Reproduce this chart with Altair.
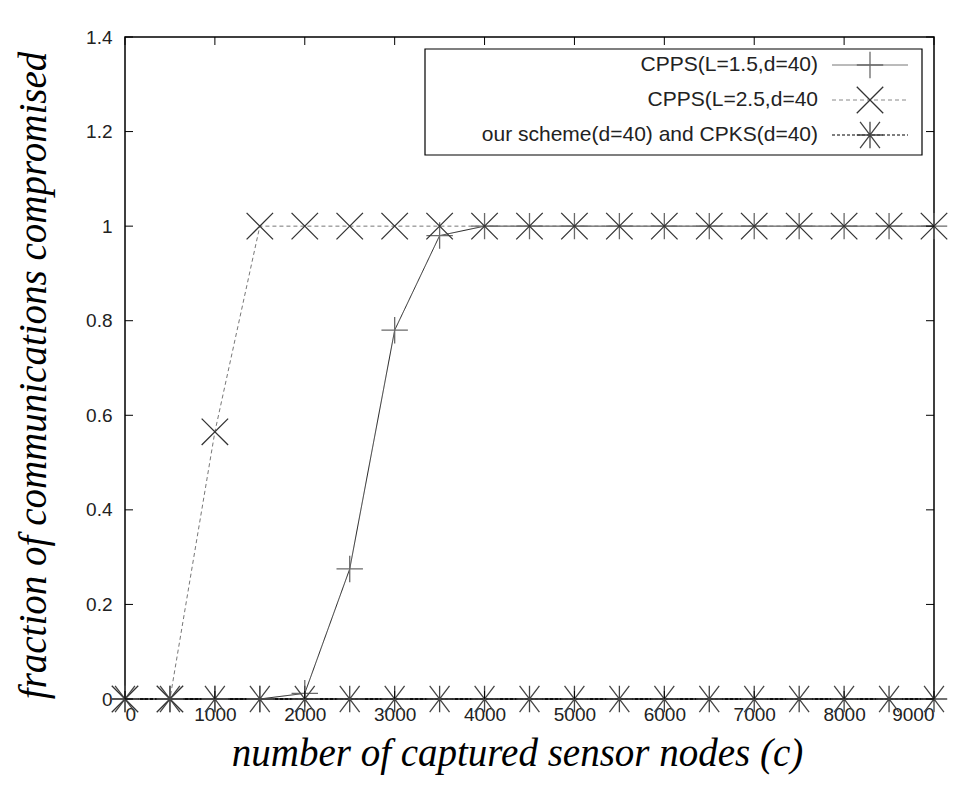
import altair as alt
import pandas as pd

# ---- data ----
captured = [0, 500, 1000, 1500, 2000, 2500, 3000, 3500, 4000, 4500,
            5000, 5500, 6000, 6500, 7000, 7500, 8000, 8500, 9000]
cpps_15 = [0, 0, 0, 0, 0.012, 0.275, 0.78, 0.98, 1, 1,
           1, 1, 1, 1, 1, 1, 1, 1, 1]
cpps_25 = [0, 0, 0.565, 1, 1, 1, 1, 1, 1, 1,
           1, 1, 1, 1, 1, 1, 1, 1, 1]
our_scheme = [0, 0, 0, 0, 0, 0, 0, 0, 0, 0,
              0, 0, 0, 0, 0, 0, 0, 0, 0]
series_names = ["CPPS(L=1.5,d=40)", "CPPS(L=2.5,d=40",
                "our scheme(d=40) and CPKS(d=40)"]
x_ticks = [0, 1000, 2000, 3000, 4000, 5000, 6000, 7000, 8000, 9000]
y_ticks = [0, 0.2, 0.4, 0.6, 0.8, 1.0, 1.2, 1.4]

W, H = 809, 662
PLUS = "M-1,0L1,0M0,-1L0,1"
CROSS = "M-1,-1L1,1M-1,1L1,-1"
STAR = "M-1,0L1,0M0,-1L0,1M-0.75,-1L0.75,1M-0.75,1L0.75,-1"
MSIZE = 700

xscale = alt.Scale(domain=[0, 9000], nice=False, zero=False)
yscale = alt.Scale(domain=[0, 1.4], nice=False)

df1 = pd.DataFrame({"c": captured, "f": cpps_15})
df2 = pd.DataFrame({"c": captured, "f": cpps_25})
df3 = pd.DataFrame({"c": captured, "f": our_scheme})

xenc = alt.X("c:Q", scale=xscale,
             axis=alt.Axis(values=x_ticks, format="d", title="number of captured sensor nodes (c)",
                           titleFontSize=39, titleX=392))
yenc = alt.Y("f:Q", scale=yscale,
             axis=alt.Axis(values=y_ticks, format="~g", title="fraction of communications compromised",
                           titleFontSize=39, titleY=338))


def series(df, color, dash, mcolor, shape, width=1.0):
    base = alt.Chart(df).encode(x=xenc, y=yenc)
    line = base.mark_line(color=color, strokeWidth=width, strokeDash=dash)
    pts = base.mark_point(shape=shape, size=MSIZE, color=mcolor, filled=False,
                          strokeWidth=1.3, opacity=1)
    return line, pts


l1, p1 = series(df1, "#222222", [1, 0], "#6a6a6a", PLUS)
l2, p2 = series(df2, "#777777", [4, 3], "#333333", CROSS)
l3, p3 = series(df3, "#000000", [3, 2], "#444444", STAR, width=1.6)

# inward ticks (gnuplot style), driven by the tick lists
xt = pd.DataFrame({"c": x_ticks})
yt = pd.DataFrame({"f": y_ticks})
tick_style = dict(color="#000000", strokeWidth=1)
xt_bottom = alt.Chart(xt).mark_rule(**tick_style).encode(
    x=alt.X("c:Q", scale=xscale), y=alt.value(H), y2=alt.value(H - 8))
xt_top = alt.Chart(xt).mark_rule(**tick_style).encode(
    x=alt.X("c:Q", scale=xscale), y=alt.value(0), y2=alt.value(8))
yt_left = alt.Chart(yt).mark_rule(**tick_style).encode(
    y=alt.Y("f:Q", scale=yscale), x=alt.value(0), x2=alt.value(8))
yt_right = alt.Chart(yt).mark_rule(**tick_style).encode(
    y=alt.Y("f:Q", scale=yscale), x=alt.value(W), x2=alt.value(W - 8))

# legend box (top right, labels right-aligned, sample on the right)
LX0, LX1, LY0, LY1 = 300, 797, 12, 118
rows = [28, 63, 98]
leg_box = alt.Chart(pd.DataFrame({"a": [0]})).mark_rect(
    fill="white", stroke="#000000", strokeWidth=1.2).encode(
    x=alt.value(LX0), x2=alt.value(LX1), y=alt.value(LY0), y2=alt.value(LY1))
leg_df = pd.DataFrame({"label": series_names, "ly": rows})
leg_text = alt.Chart(leg_df).mark_text(
    align="right", baseline="middle", font="Liberation Sans", fontSize=21,
    color="#222222").encode(
    text="label:N", x=alt.value(693), y=alt.Y("ly:Q", scale=None))

leg_items = []
for i, (col, dash, mcol, shp, w) in enumerate([
        ("#777777", [1, 0], "#6a6a6a", PLUS, 1.0),
        ("#888888", [4, 3], "#333333", CROSS, 1.0),
        ("#000000", [3, 2], "#444444", STAR, 1.2)]):
    d = pd.DataFrame({"ly": [rows[i]]})
    leg_items.append(alt.Chart(d).mark_rule(color=col, strokeDash=dash, strokeWidth=w).encode(
        x=alt.value(707), x2=alt.value(783), y=alt.Y("ly:Q", scale=None)))
    leg_items.append(alt.Chart(d).mark_point(shape=shp, size=MSIZE, color=mcol, filled=False,
                                             strokeWidth=1.3, opacity=1).encode(
        x=alt.value(745), y=alt.Y("ly:Q", scale=None)))

chart = alt.layer(
    l1, l2, l3, p1, p2, p3,
    xt_bottom, xt_top, yt_left, yt_right,
    leg_box, leg_text, *leg_items
).properties(
    width=W, height=H,
    autosize=alt.AutoSizeParams(type="none"),
    padding={"left": 117, "top": 29, "right": 16, "bottom": 82},
    background="white",
).configure_view(
    stroke="#000000", strokeWidth=1.5
).configure_axis(
    ticks=False, domain=False, grid=False,
    labelFont="Liberation Sans", labelFontSize=19, labelColor="#222222",
    titleFont="Liberation Serif", titleFontStyle="italic", titleFontWeight="normal",
    titleColor="#000000",
).configure_axisX(
    labelPadding=6, titlePadding=10
).configure_axisY(
    labelPadding=13, titlePadding=32
)

chart.save("out.html", embed_options={"renderer": "svg", "actions": False})
